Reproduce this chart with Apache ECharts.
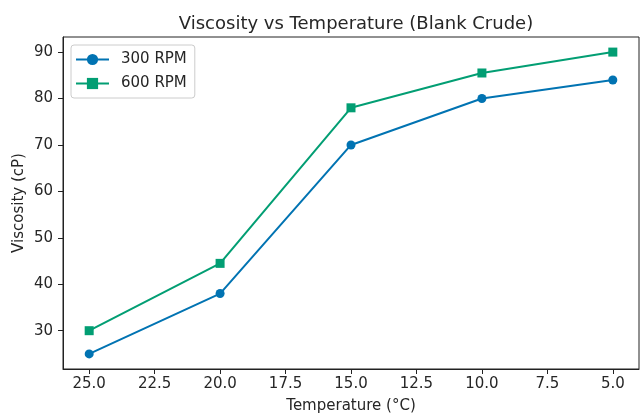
<!DOCTYPE html>
<html>
<head>
<meta charset="utf-8">
<script src="https://cdn.jsdelivr.net/npm/echarts@6/dist/echarts.min.js"></script>
<style>html,body{margin:0;padding:0;background:#fff}#c{width:640px;height:419px}</style>
</head>
<body>
<div id="c"></div>
<script>
var temperatures = [25, 20, 15, 10, 5];
var rpm300 = [25, 38, 70, 80, 84];
var rpm600 = [30, 44.5, 78, 85.5, 90];
var xTicks = [25, 22.5, 20, 17.5, 15, 12.5, 10, 7.5, 5];
var yTicks = [30, 40, 50, 60, 70, 80, 90];

var font = 'DejaVu Sans';
var txt = '#262626';
function pairs(xs, ys) { return xs.map(function (x, i) { return [x, ys[i]]; }); }

var chart = echarts.init(document.getElementById('c'), null, {renderer: 'canvas'});
chart.setOption({
  animation: false,
  backgroundColor: '#fff',
  title: {
    text: 'Viscosity vs Temperature (Blank Crude)',
    left: 351, top: 10, textAlign: 'center',
    textStyle: {fontFamily: font, fontSize: 18, fontWeight: 'normal', color: txt}
  },
  grid: {left: 63, right: 1, top: 37, bottom: 46, show: true, borderColor: '#222', borderWidth: 1, backgroundColor: 'transparent'},
  legend: {
    left: 71, top: 45, orient: 'vertical',
    padding: [7, 8, 7, 4],
    itemWidth: 33, itemHeight: 14, itemGap: 9,
    borderColor: '#cccccc', borderWidth: 1, borderRadius: 3,
    backgroundColor: 'rgba(255,255,255,0.8)',
    textStyle: {fontFamily: font, fontSize: 15, color: txt, padding: [0, 0, 0, 7]},
    data: ['300 RPM', '600 RPM']
  },
  xAxis: {
    type: 'value', inverse: true, min: 4, max: 26,
    name: 'Temperature (°C)', nameLocation: 'middle', nameGap: 30,
    nameTextStyle: {fontFamily: font, fontSize: 15, color: txt},
    axisLine: {show: true, lineStyle: {color: '#222', width: 1}},
    axisTick: {show: true, length: 5, customValues: xTicks, lineStyle: {color: '#222'}},
    axisLabel: {customValues: xTicks, margin: 8, fontFamily: font, fontSize: 15, color: txt,
      formatter: function (v) { return v.toFixed(1); }},
    splitLine: {show: false}
  },
  yAxis: {
    type: 'value', min: 21.75, max: 93.25,
    name: 'Viscosity (cP)', nameLocation: 'middle', nameGap: 36, nameMoveOverlap: false,
    nameTextStyle: {fontFamily: font, fontSize: 15, color: txt},
    axisLine: {show: true, lineStyle: {color: '#222', width: 1}},
    axisTick: {show: true, length: 5, customValues: yTicks, lineStyle: {color: '#222'}},
    axisLabel: {customValues: yTicks, margin: 10, fontFamily: font, fontSize: 15, color: txt},
    splitLine: {show: false}
  },
  series: [
    {name: '300 RPM', type: 'line', data: pairs(temperatures, rpm300),
     symbol: 'circle', symbolSize: 9, color: '#0173B2',
     lineStyle: {width: 2, color: '#0173B2'}, itemStyle: {color: '#0173B2'}},
    {name: '600 RPM', type: 'line', data: pairs(temperatures, rpm600),
     symbol: 'rect', symbolSize: 9, color: '#029E73',
     lineStyle: {width: 2, color: '#029E73'}, itemStyle: {color: '#029E73'}}
  ]
});
</script>
</body>
</html>
